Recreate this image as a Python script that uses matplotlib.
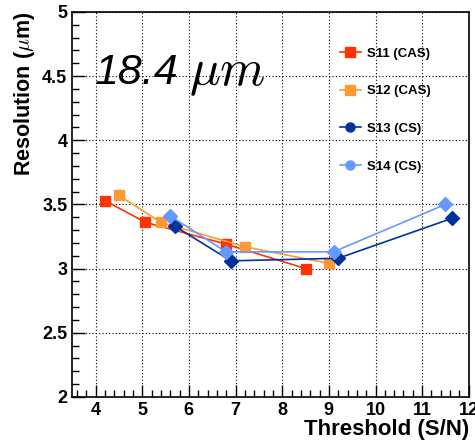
import matplotlib
matplotlib.use("Agg")
import matplotlib.pyplot as plt
from matplotlib.lines import Line2D
from matplotlib.ticker import MultipleLocator, FormatStrFormatter

plt.rcParams["font.family"] = ["Liberation Sans", "DejaVu Sans"]
plt.rcParams["font.weight"] = "bold"
plt.rcParams["mathtext.fontset"] = "cm"

# threshold (S/N) and resolution (um) per sensor
s11_x = [4.2, 5.07, 6.8, 8.5]
s11_y = [3.53, 3.36, 3.19, 3.00]
s12_x = [4.5, 5.4, 7.2, 9.0]
s12_y = [3.57, 3.36, 3.17, 3.04]
s13_x = [5.7, 6.9, 9.2, 11.63]
s13_y = [3.33, 3.06, 3.08, 3.39]
s14_x = [5.6, 6.8, 9.1, 11.5]
s14_y = [3.41, 3.13, 3.13, 3.50]

labels = ["S11 (CAS)", "S12 (CAS)", "S13 (CS)", "S14 (CS)"]
colors = ["#ff3300", "#ff9933", "#003399", "#6699ff"]

fig = plt.figure(figsize=(4.75, 4.4), dpi=100)
ax = fig.add_axes([0.152, 0.098, 0.835, 0.875])

series = [(s11_x, s11_y, "s"), (s12_x, s12_y, "s"),
          (s13_x, s13_y, "D"), (s14_x, s14_y, "D")]
for (x, y, m), c in zip(series, colors):
    ax.plot(x, y, color=c, lw=1.2, marker=m, ms=7.5 if m == "s" else 7,
            mec=c, mfc=c)

ax.set_xlim(3.5, 12)
ax.set_ylim(2, 5)
ax.xaxis.set_major_locator(MultipleLocator(1))
ax.xaxis.set_minor_locator(MultipleLocator(0.2))
ax.yaxis.set_major_locator(MultipleLocator(0.5))
ax.yaxis.set_minor_locator(MultipleLocator(0.1))
ax.yaxis.set_major_formatter(FormatStrFormatter("%g"))
ax.tick_params(which="both", direction="in", labelsize=13, width=1)
ax.tick_params(which="major", length=9)
ax.tick_params(which="minor", length=5)
ax.grid(True, which="major", color="black", ls=(0, (1, 2)), lw=0.8)
for sp in ax.spines.values():
    sp.set_linewidth(1.2)

ax.set_xlabel("Threshold (S/N)", fontsize=16, fontweight="bold", loc="right",
              labelpad=0)
ax.set_ylabel(r"Resolution ($\mu$m)", fontsize=15.5, fontweight="bold",
              loc="top", labelpad=4)

ax.text(3.98, 4.52, "18.4", fontsize=31, style="italic",
        fontweight="normal", va="center", ha="left")
ax.text(6.0, 4.52, r"$\mu m$", fontsize=37, va="center", ha="left")

handles = [Line2D([], [], color=c, lw=1.2, marker=m, ms=6.5, mec=c, mfc=c)
           for c, m in zip(colors, ["s", "s", "o", "o"])]
ax.legend(handles, labels, loc="upper left", bbox_to_anchor=(0.675, 0.908),
          frameon=False, prop={"size": 9.5, "weight": "bold"},
          borderpad=0, borderaxespad=0,
          handlelength=1.6, labelspacing=1.93, handletextpad=0.45)

fig.savefig("out.png", dpi=100)
